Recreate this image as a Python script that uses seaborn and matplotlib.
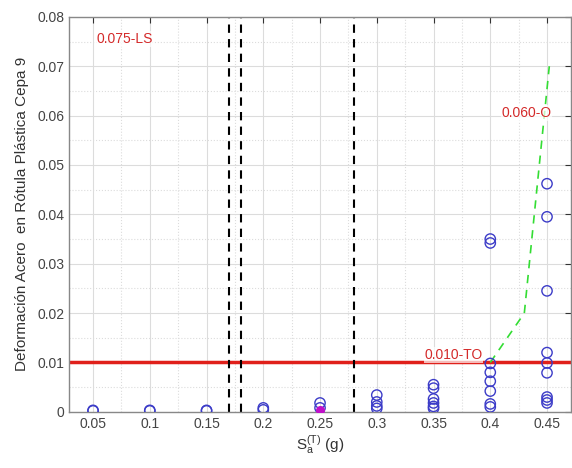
import numpy as np
import pandas as pd
import matplotlib
matplotlib.use("Agg")
import matplotlib.pyplot as plt
import seaborn as sns

# data
sa_values = [0.05, 0.05, 0.10, 0.10, 0.15, 0.15, 0.20, 0.20,
             0.25, 0.25,
             0.30, 0.30, 0.30, 0.30,
             0.35, 0.35, 0.35, 0.35, 0.35, 0.35,
             0.40, 0.40, 0.40, 0.40, 0.40, 0.40, 0.40, 0.40,
             0.45, 0.45, 0.45, 0.45, 0.45, 0.45, 0.45, 0.45, 0.45]
strain_values = [0.0002, 0.0003, 0.0002, 0.0003, 0.0002, 0.0003, 0.0004, 0.0008,
                 0.0018, 0.0008,
                 0.0034, 0.0020, 0.0012, 0.0007,
                 0.0055, 0.0048, 0.0026, 0.0018, 0.0011, 0.0007,
                 0.0350, 0.0342, 0.0098, 0.0080, 0.0062, 0.0042, 0.0016, 0.0010,
                 0.0462, 0.0395, 0.0245, 0.0120, 0.0099, 0.0079, 0.0030, 0.0024, 0.0018]
magenta_sa = [0.25]
magenta_strain = [0.0004]

fit_sa = [0.40, 0.43, 0.452]
fit_strain = [0.010, 0.020, 0.070]

vlines_sa = [0.17, 0.18, 0.28]
limit_to = 0.010
labels = [("0.075-LS", 0.053, 0.0755), ("0.060-O", 0.410, 0.0605), ("0.010-TO", 0.342, 0.0115)]

xticks = [0.05, 0.1, 0.15, 0.2, 0.25, 0.3, 0.35, 0.4, 0.45]
yticks = [0, 0.01, 0.02, 0.03, 0.04, 0.05, 0.06, 0.07, 0.08]

sns.set_style("white")
plt.rcParams['font.family'] = ['Liberation Sans', 'DejaVu Sans']

df = pd.DataFrame({"sa": sa_values, "strain": strain_values})
fit_df = pd.DataFrame({"sa": fit_sa, "strain": fit_strain})

fig = plt.figure(figsize=(5.72, 4.68), dpi=100)
ax = fig.add_axes([0.121, 0.12, 0.877, 0.844])

# grids
ax.set_xticks(xticks)
ax.set_yticks(yticks)
ax.set_xticks(np.arange(0.025, 0.47, 0.05), minor=True)
ax.set_yticks(np.arange(0.005, 0.08, 0.01), minor=True)
ax.grid(True, which="major", color="#dcdcdc", linewidth=0.8)
ax.grid(True, which="minor", color="#dcdcdc", linewidth=0.8, linestyle=":")
ax.set_axisbelow(True)

ax.axhline(limit_to, color="#e0201b", linewidth=2.5, zorder=2)
for v in vlines_sa:
    ax.axvline(v, color="black", linestyle=(0, (4, 3)), linewidth=1.5, zorder=2)

sns.lineplot(data=fit_df, x="sa", y="strain", ax=ax, color="#33dd33",
             linestyle=(0, (5, 4)), linewidth=1.2, zorder=3, sort=False)

sns.scatterplot(data=df, x="sa", y="strain", ax=ax, marker="o", s=55,
                facecolors="none", edgecolor="#3c3cc8", linewidth=1.0, zorder=4)
ax.scatter(magenta_sa, magenta_strain, s=30, color="#c010c8", zorder=5)

for txt, x, y in labels:
    ax.text(x, y, txt, color="#d42a2a", fontsize=10, ha="left", va="center",
            bbox=dict(facecolor="white", edgecolor="none", pad=0.5, alpha=0.7), zorder=6)

ax.set_xlim(0.029, 0.471)
ax.set_ylim(0, 0.08)
ax.set_xticklabels([f"{t:g}" for t in xticks])
ax.set_yticklabels([f"{t:g}" for t in yticks])
ax.tick_params(which="major", direction="in", length=4, color="#333333",
               labelsize=10, labelcolor="#444444", top=True, right=True)
ax.tick_params(which="minor", length=0)
for s in ax.spines.values():
    s.set_color("#888888")
    s.set_linewidth(1.0)

ax.set_xlabel(r"S$_\mathregular{a}^\mathregular{(T)}$ (g)", fontsize=11, color="#333333", labelpad=2)
ax.set_ylabel("Deformación Acero  en Rótula Plástica Cepa 9", fontsize=11, color="#333333", labelpad=6)

fig.savefig("out.png", dpi=100)
